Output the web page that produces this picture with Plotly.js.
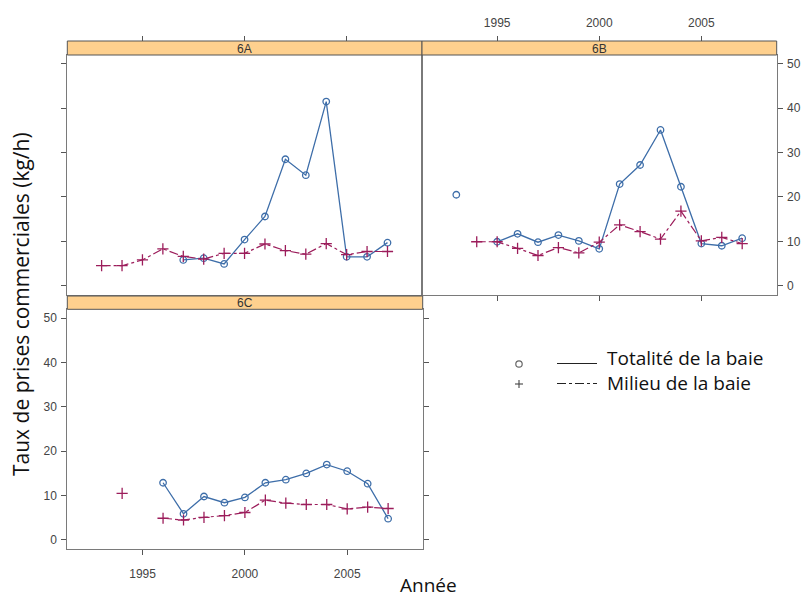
<!DOCTYPE html>
<html><head><meta charset="utf-8">
<script src="https://cdn.plot.ly/plotly-3.0.1.min.js"></script>
<style>html,body{margin:0;padding:0;background:#fff;}#chart{width:806px;height:599px;}</style>
</head><body><div id="chart"></div>
<script>
const years = [1993,1994,1995,1996,1997,1998,1999,2000,2001,2002,2003,2004,2005,2006,2007];
const panelNames = ["6A","6B","6C"];
const seriesNames = ["Totalité de la baie","Milieu de la baie"];
const totA = [null,null,null,null,5.8,6.2,4.9,10.4,15.6,28.5,24.9,41.5,6.5,6.5,9.7];
const milA = [4.5,4.5,5.8,8.3,6.6,6.0,7.3,7.3,9.4,7.9,7.1,9.5,7.0,7.7,7.7];
const totB = [20.5,null,9.9,11.7,9.8,11.4,10.1,8.3,22.9,27.2,35.1,22.3,9.5,9.0,10.7];
const milB = [null,9.9,9.9,8.4,6.8,8.6,7.4,9.8,13.7,12.2,10.5,16.8,10.1,10.9,9.5];
const totC = [null,null,null,12.9,5.9,9.8,8.4,9.6,12.9,13.6,15.0,17.0,15.5,12.7,4.8];
const milC = [null,10.5,null,4.9,4.5,5.1,5.5,6.2,9.0,8.3,8.0,8.0,7.0,7.4,7.1];
const xTicks = [1995,2000,2005];
const yTicks = [0,10,20,30,40,50];

const W=806,H=599;
const px = x => x/W, py = y => 1 - y/H;
const BLUE = '#3e6ea9', MAG = '#9c1d5b', AX = '#7a7a7a';
const XR = [1991.32, 2008.69], YR = [-2.1, 52.0];

function tot(y, xa, ya){
  return {x: years, y: y, xaxis: xa, yaxis: ya, type:'scatter', mode:'lines+markers', showlegend:false,
    connectgaps:false, line:{color:BLUE, width:1.3},
    marker:{symbol:'circle-open', size:6.5, color:BLUE, line:{width:1.3, color:BLUE}}};
}
function mil(y, xa, ya){
  return {x: years, y: y, xaxis: xa, yaxis: ya, type:'scatter', mode:'lines+markers', showlegend:false,
    connectgaps:false, line:{color:MAG, width:1.2, dash:'dashdot'},
    marker:{symbol:'cross-thin-open', size:8, color:MAG, line:{width:1.3, color:MAG}}};
}
function dummy(xa, ya){
  return {x:[null], y:[null], xaxis:xa, yaxis:ya, type:'scatter', mode:'markers', showlegend:false, hoverinfo:'skip'};
}
const data = [
  tot(totA, 'x', 'y'), mil(milA, 'x', 'y'),
  tot(totB, 'x2', 'y2'), mil(milB, 'x2', 'y2'),
  tot(totC, 'x3', 'y3'), mil(milC, 'x3', 'y3'),
  dummy('x4','y'), dummy('x5','y2'), dummy('x3','y4')
];

const tf = {family:'Liberation Sans, Arial, sans-serif', size:12, color:'#444'};
const tfN = {family:'Liberation Sans Narrow, Arial Narrow, Liberation Sans, sans-serif', size:12, color:'#444'};
const base = {showgrid:false, zeroline:false, showline:true, mirror:true, linecolor:AX, linewidth:1,
  tickcolor:'#555', ticklen:5, tickwidth:1, fixedrange:true};
const xb = Object.assign({}, base, {range:XR, tickvals:xTicks, ticktext:xTicks.map(String)});
const yb = Object.assign({}, base, {range:YR, tickvals:yTicks, ticktext:yTicks.map(String)});

const dAx = [px(67.3), px(422)], dBx = [px(422), px(776.7)], dCx = [px(67.3), px(422.7)];
const dTopY = [py(295), py(55)], dBotY = [py(549.3), py(309.3)];

const layout = {
  width:W, height:H, margin:{l:0,r:0,t:0,b:0}, paper_bgcolor:'#fff', plot_bgcolor:'#fff', showlegend:false,
  xaxis: Object.assign({}, xb, {domain:dAx, anchor:'y', ticks:'', showticklabels:false}),
  yaxis: Object.assign({}, yb, {domain:dTopY, anchor:'x', side:'left', ticks:'outside', showticklabels:false}),
  xaxis2: Object.assign({}, xb, {domain:dBx, anchor:'y2', ticks:'outside', showticklabels:false}),
  yaxis2: Object.assign({}, yb, {domain:dTopY, anchor:'x2', side:'right', ticks:'outside', showticklabels:true, tickfont:tf, ticklabelstandoff:2}),
  xaxis3: Object.assign({}, xb, {domain:dCx, anchor:'y3', ticks:'outside', showticklabels:true, tickfont:tf, ticklabelstandoff:8}),
  yaxis3: Object.assign({}, yb, {domain:dBotY, anchor:'x3', side:'left', ticks:'outside', showticklabels:true, tickfont:tf, ticklabelstandoff:2}),
  xaxis4: Object.assign({}, xb, {domain:dAx, overlaying:'x', anchor:'free', position:py(41), side:'top', ticks:'outside', showticklabels:false, showline:false, mirror:false}),
  xaxis5: Object.assign({}, xb, {domain:dBx, overlaying:'x2', anchor:'free', position:py(41), side:'top', ticks:'outside', showticklabels:true, tickfont:tfN, showline:false, mirror:false, ticklabelstandoff:4}),
  yaxis4: Object.assign({}, yb, {domain:dBotY, overlaying:'y3', anchor:'x3', side:'right', ticks:'outside', showticklabels:false, showline:false, mirror:false}),
  shapes: [],
  annotations: []
};
const strips = [[67.3,422,41,55,panelNames[0]],[422,776.7,41,55,panelNames[1]],[67.3,422.7,296,309.3,panelNames[2]]];
strips.forEach(s=>{
  layout.shapes.push({type:'rect', xref:'paper', yref:'paper', x0:px(s[0]), x1:px(s[1]), y0:py(s[3]), y1:py(s[2]),
    fillcolor:'#fed08e', line:{color:'#555', width:1}, layer:'above'});
  layout.annotations.push({xref:'paper', yref:'paper', x:px((s[0]+s[1])/2), y:py((s[2]+s[3])/2+0.5), text:s[4], showarrow:false,
    xanchor:'center', yanchor:'middle', font:{family:'Liberation Sans Narrow, Liberation Sans, sans-serif', size:12, color:'#333'}});
});
layout.shapes.push({type:'circle', xref:'paper', yref:'paper', x0:px(515.8), x1:px(522.2), y0:py(367.2), y1:py(360.8), line:{color:'#666', width:1.2}});
layout.shapes.push({type:'line', xref:'paper', yref:'paper', x0:px(515), x1:px(523), y0:py(384), y1:py(384), line:{color:'#444', width:1.1}});
layout.shapes.push({type:'line', xref:'paper', yref:'paper', x0:px(519), x1:px(519), y0:py(380), y1:py(388), line:{color:'#444', width:1.1}});
layout.shapes.push({type:'line', xref:'paper', yref:'paper', x0:px(557), x1:px(597), y0:py(363.5), y1:py(363.5), line:{color:'#222', width:1}});
layout.shapes.push({type:'line', xref:'paper', yref:'paper', x0:px(557), x1:px(597), y0:py(383.5), y1:py(383.5), line:{color:'#222', width:1, dash:'dashdot'}});
const legFont = {family:'Open Sans, sans-serif', size:19, color:'#111'};
const titleFont = {family:'Open Sans, sans-serif', size:21, color:'#111'};
layout.annotations.push({xref:'paper', yref:'paper', x:px(605), y:py(358), text:seriesNames[0], showarrow:false, xanchor:'left', yanchor:'middle', font:legFont});
layout.annotations.push({xref:'paper', yref:'paper', x:px(605), y:py(383), text:seriesNames[1], showarrow:false, xanchor:'left', yanchor:'middle', font:legFont});
layout.annotations.push({xref:'paper', yref:'paper', x:px(21), y:py(304), text:'Taux de prises commerciales (kg/h)', textangle:-90, showarrow:false, xanchor:'center', yanchor:'middle', font:titleFont});
layout.annotations.push({xref:'paper', yref:'paper', x:px(428), y:py(585), text:'Année', showarrow:false, xanchor:'center', yanchor:'middle', font:legFont});

Plotly.newPlot('chart', data, layout, {staticPlot:true, displayModeBar:false});
</script></body></html>
